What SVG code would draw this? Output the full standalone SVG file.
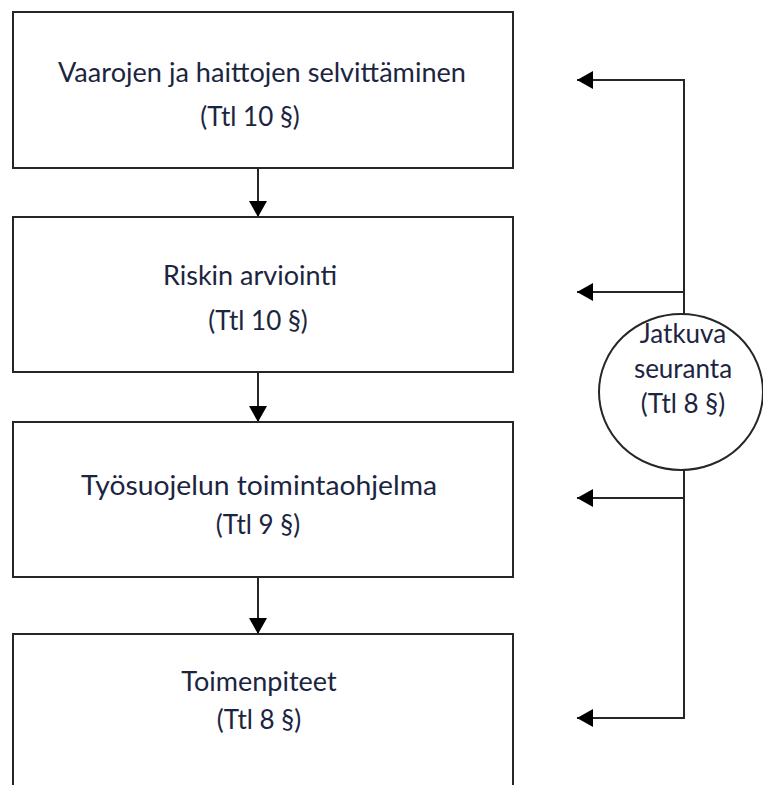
<svg xmlns="http://www.w3.org/2000/svg" width="763" height="785" viewBox="0 0 763 785">
<defs>
<style>
.box{fill:#fff;stroke:#262626;stroke-width:2}
.ln{fill:none;stroke:#262626;stroke-width:2}
.t{font-family:Lato,"Liberation Sans",sans-serif;font-size:27px;fill:#1c2540;text-anchor:middle}
.s{font-size:26px}
</style>
<marker id="ah" viewBox="0 0 16 18" refX="16" refY="9" markerWidth="16" markerHeight="18" markerUnits="userSpaceOnUse" orient="auto">
<path d="M0,0 L16,9 L0,18 Z" fill="#000"/>
</marker>
</defs>
<rect width="763" height="785" fill="#fff"/>
<g id="connectors">
<line class="ln" x1="258" y1="168" x2="258" y2="217" marker-end="url(#ah)"/>
<line class="ln" x1="258" y1="372" x2="258" y2="422" marker-end="url(#ah)"/>
<line class="ln" x1="258" y1="577" x2="258" y2="634" marker-end="url(#ah)"/>
<polyline class="ln" points="684,314 684,80 577,80" marker-end="url(#ah)"/>
<line class="ln" x1="684" y1="292" x2="577" y2="292" marker-end="url(#ah)"/>
<polyline class="ln" points="684,470 684,718 577,718" marker-end="url(#ah)"/>
<line class="ln" x1="684" y1="498" x2="577" y2="498" marker-end="url(#ah)"/>
</g>
<g id="n1">
<rect class="box" x="13" y="12" width="500" height="156"/>
<text class="t" x="262" y="82" textLength="408" lengthAdjust="spacingAndGlyphs">Vaarojen ja haittojen selvittäminen</text>
<text class="t s" x="250" y="126">(Ttl 10 §)</text>
</g>
<g id="n2">
<rect class="box" x="13" y="217" width="500" height="155"/>
<text class="t" x="250" y="285">Riskin arviointi</text>
<text class="t s" x="258" y="330">(Ttl 10 §)</text>
</g>
<g id="n3">
<rect class="box" x="13" y="422" width="500" height="155"/>
<text class="t" x="259" y="495" textLength="356" lengthAdjust="spacingAndGlyphs">Työsuojelun toimintaohjelma</text>
<text class="t s" x="258" y="534">(Ttl 9 §)</text>
</g>
<g id="n4">
<rect class="box" x="13" y="634" width="500" height="160"/>
<text class="t" x="259" y="691">Toimenpiteet</text>
<text class="t s" x="259" y="729">(Ttl 8 §)</text>
</g>
<g id="n5">
<ellipse class="box" cx="681" cy="392" rx="82" ry="78"/>
<text class="t s" x="683" y="343">Jatkuva</text>
<text class="t s" x="683" y="378">seuranta</text>
<text class="t s" x="683" y="413">(Ttl 8 §)</text>
</g>
</svg>
